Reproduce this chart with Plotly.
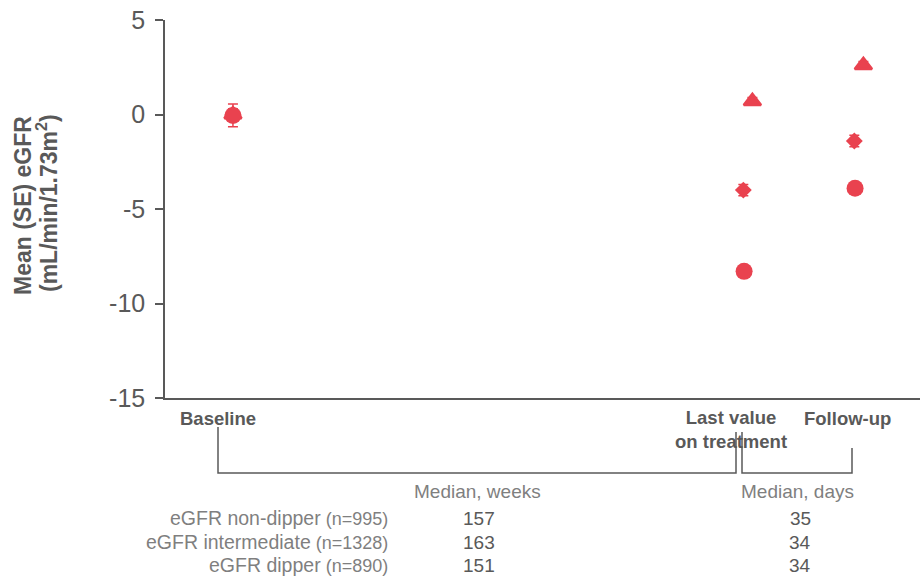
import plotly.graph_objects as go

# ---------------- data ----------------
timepoints = ["Baseline", "Last value<br>on treatment", "Follow-up"]
timepoint_x = [9.0, 76.7, 91.4]

groups = ["eGFR non-dipper", "eGFR intermediate", "eGFR dipper"]
group_n = ["(n=995)", "(n=1328)", "(n=890)"]
group_symbols = ["triangle-up", "diamond", "circle"]
group_x_offset = [[0.0, 1.1, 1.1], [0.0, -0.1, -0.1], [0.0, 0.0, 0.0]]

mean_nondipper = [0.0, 0.7, 2.6]
mean_intermediate = [0.0, -4.0, -1.4]
mean_dipper = [-0.05, -8.3, -3.9]
se_nondipper = [0.25, 0.2, 0.2]
se_intermediate = [0.3, 0.3, 0.3]
se_dipper = [0.6, 0.2, 0.2]

median_weeks = [157, 163, 151]
median_days = [35, 34, 34]

ytick_vals = [5, 0, -5, -10, -15]
ytick_labels = ["5", "0", "-5", "-10", "-15"]
ytitle_lines = ["Mean (SE) eGFR", "(mL/min/1.73m<sup>2</sup>)"]

# ---------------- styling ----------------
RED = "#E9424F"
GREY = "#595959"
LIGHT = "#7F7F7F"
FONT = "Liberation Sans, Arial, sans-serif"

W, H = 923, 577
L, R, T, B = 165, 3, 20, 179
PW, PH = W - L - R, H - T - B


def px(x):
    return (x - L) / PW


def py(y):
    return (H - B - y) / PH


fig = go.Figure()

means = [mean_nondipper, mean_intermediate, mean_dipper]
ses = [se_nondipper, se_intermediate, se_dipper]
sizes = [15, 13, 17]
line_w = [2.5, 0, 0]
for g, name in enumerate(groups):
    xs = [timepoint_x[i] + group_x_offset[g][i] for i in range(len(timepoint_x))]
    fig.add_trace(go.Scatter(
        x=xs, y=means[g], mode="markers", name=name,
        marker=dict(symbol=group_symbols[g], size=sizes[g], color=RED,
                    line=dict(width=line_w[g], color=RED)),
        error_y=dict(type="data", array=ses[g], color=RED, thickness=1.5, width=5),
        showlegend=False,
    ))

fig.update_layout(
    width=W, height=H,
    margin=dict(l=L, r=R, t=T, b=B),
    paper_bgcolor="white", plot_bgcolor="white",
    font=dict(family=FONT, color=GREY),
    xaxis=dict(range=[0, 100], showticklabels=False, ticks="", showgrid=False,
               zeroline=False, showline=True, linecolor=GREY, linewidth=1.5),
    yaxis=dict(range=[-15, 5], tickvals=ytick_vals, ticktext=ytick_labels,
               ticks="outside", ticklen=8, ticklabelstandoff=5,
               tickcolor=GREY, tickwidth=1.5, showgrid=False, zeroline=False,
               showline=True, linecolor=GREY, linewidth=1.5,
               tickfont=dict(size=25, color=GREY, family=FONT)),
)

annotations = []
# y-axis title (two lines)
for lx, ly, txt in zip([23, 47], [206, 203], ytitle_lines):
    annotations.append(dict(
        x=px(lx), y=py(ly), xref="paper", yref="paper", showarrow=False,
        text=f"<b>{txt}</b>", textangle=-90,
        font=dict(size=23, color=GREY, family=FONT), xanchor="center", yanchor="middle"))

# timepoint labels
label_px = [(218, 418), (731, 429), (847, 418)]
for (lx, ly), t in zip(label_px, timepoints):
    annotations.append(dict(
        x=px(lx), y=py(ly), xref="paper", yref="paper", showarrow=False,
        text=f"<b>{t}</b>", font=dict(size=18.5, color=GREY, family=FONT),
        xanchor="center", yanchor="middle", align="center"))

# median headers
annotations.append(dict(x=px(477), y=py(491), xref="paper", yref="paper", showarrow=False,
                        text="Median, weeks", font=dict(size=19, color=LIGHT, family=FONT),
                        xanchor="center", yanchor="middle"))
annotations.append(dict(x=px(797), y=py(491), xref="paper", yref="paper", showarrow=False,
                        text="Median, days", font=dict(size=19, color=LIGHT, family=FONT),
                        xanchor="center", yanchor="middle"))

row_y = [518, 542, 565]
for i, g in enumerate(groups):
    annotations.append(dict(
        x=px(390), y=py(row_y[i]), xref="paper", yref="paper", showarrow=False,
        text=f"{g}<span style='font-size:18px'> {group_n[i]}</span>",
        font=dict(size=19.5, color=LIGHT, family=FONT), xanchor="right", yanchor="middle"))
    annotations.append(dict(
        x=px(479), y=py(row_y[i]), xref="paper", yref="paper", showarrow=False,
        text=str(median_weeks[i]), font=dict(size=19, color=GREY, family=FONT),
        xanchor="center", yanchor="middle"))
    annotations.append(dict(
        x=px(800), y=py(row_y[i]), xref="paper", yref="paper", showarrow=False,
        text=str(median_days[i]), font=dict(size=19, color=GREY, family=FONT),
        xanchor="center", yanchor="middle"))

fig.update_layout(annotations=annotations)

# brackets
line = dict(color=GREY, width=1.5)
brackets = [((218, 427), (736, 432)), ((742, 432), (852, 448))]
ybot = 473
shapes = []
for (x0, y0), (x1, y1) in brackets:
    shapes.append(dict(type="path", xref="paper", yref="paper",
                       path=f"M {px(x0)} {py(y0)} L {px(x0)} {py(ybot)} L {px(x1)} {py(ybot)} L {px(x1)} {py(y1)}",
                       line=line))
fig.update_layout(shapes=shapes)

fig.write_html(
    "out.html",
    config={"displayModeBar": False},
    post_script="document.body.style.margin='0';document.body.style.overflow='hidden';",
)
